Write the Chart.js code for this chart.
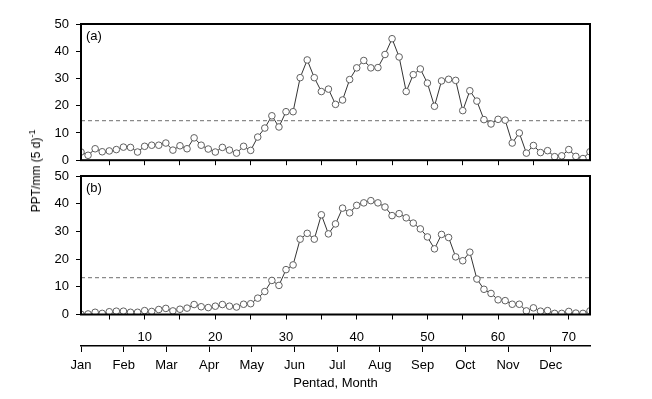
<!DOCTYPE html>
<html>
<head>
<meta charset="utf-8">
<script src="https://cdn.jsdelivr.net/npm/chart.js@4"></script>
<style>
  body { margin: 0; background: #fff; width: 652px; height: 399px; position: relative; overflow: hidden; }
  canvas { position: absolute; left: 0; }
  #chartA { top: 0; }
  #chartB { top: 160px; }
  #ylab {
    position: absolute; left: 35px; top: 171px;
    transform: translate(-50%, -50%) rotate(-90deg);
    font: 12px "Liberation Sans", Arial, sans-serif; color: #000; white-space: nowrap;
  }
  #ylab sup { font-size: 9px; }
</style>
</head>
<body>
<canvas id="chartA" width="652" height="175"></canvas>
<canvas id="chartB" width="652" height="239"></canvas>
<div id="ylab">PPT/mm (5 d)<sup>-1</sup></div>
<script>
// pentad index 1..73
const pentads = Array.from({ length: 73 }, (_, i) => i + 1);

// (a) upper panel
const pptA = [3.0, 1.8, 4.2, 3.1, 3.4, 3.9, 4.8, 4.7, 3.0, 5.1,
  5.5, 5.5, 6.3, 3.7, 5.3, 4.2, 8.2, 5.5, 4.1, 3.0,
  4.7, 3.7, 2.6, 5.1, 3.6, 8.5, 11.8, 16.3, 12.2, 17.8,
  17.8, 30.3, 36.8, 30.3, 25.2, 26.1, 20.5, 22.1, 29.6, 33.9,
  36.6, 33.9, 34.0, 38.8, 44.6, 37.9, 25.2, 31.4, 33.5, 28.3,
  19.8, 29.1, 29.7, 29.3, 18.2, 25.5, 21.7, 14.9, 13.3, 15.0,
  14.7, 6.3, 10.0, 2.6, 5.4, 2.8, 3.5, 1.3, 1.6, 3.9,
  1.4, 0.6, 3.1];
const thresholdA = 14.5;

// (b) lower panel
const pptB = [0.1, 0.2, 0.8, 0.4, 1.0, 1.2, 1.2, 0.8, 0.8, 1.4,
  1.1, 1.8, 2.2, 1.3, 1.9, 2.3, 3.6, 2.8, 2.5, 3.0,
  3.6, 3.0, 2.7, 3.7, 3.9, 5.9, 8.3, 12.3, 10.5, 16.2,
  17.9, 27.2, 29.3, 27.2, 36.0, 29.1, 32.7, 38.4, 36.7, 39.4,
  40.3, 41.1, 40.3, 38.8, 35.7, 36.4, 34.9, 33.0, 30.9, 28.0,
  23.7, 28.9, 27.8, 20.8, 19.4, 22.5, 12.8, 9.1, 7.6, 5.3,
  5.0, 3.7, 3.7, 1.3, 2.4, 1.2, 1.4, 0.4, 0.4, 1.1,
  0.5, 0.4, 1.3];
const thresholdB = 13.3;

// axis ticks
const pentadTicks = [5, 10, 15, 20, 25, 30, 35, 40, 45, 50, 55, 60, 65, 70];
const months = ['Jan', 'Feb', 'Mar', 'Apr', 'May', 'Jun', 'Jul', 'Aug', 'Sep', 'Oct', 'Nov', 'Dec'];
const monthSpan = 11.92;

const FONT = '"Liberation Sans", Arial, sans-serif';
Chart.defaults.font.family = FONT;
Chart.defaults.font.size = 13;
Chart.defaults.color = '#000';

const framePlugin = {
  id: 'frame',
  afterDraw(chart, args, opts) {
    const { ctx, chartArea: a } = chart;
    ctx.save();
    ctx.strokeStyle = '#000';
    ctx.lineWidth = 2;
    ctx.strokeRect(a.left, a.top, a.right - a.left, a.bottom - a.top);
    ctx.font = '13px ' + FONT;
    ctx.fillStyle = '#000';
    ctx.textBaseline = 'middle';
    ctx.fillText(opts.label, a.left + 5, a.top + 12);
    ctx.restore();
  }
};

function panel(id, label, values, threshold, lower) {
  const tickGrid = { drawOnChartArea: false, drawTicks: true, color: '#000', lineWidth: 1 };
  const scales = {
    x: {
      type: 'linear', min: 1, max: 73,
      afterBuildTicks: s => { s.ticks = pentadTicks.map(v => ({ value: v })); },
      afterFit: s => { s.height = lower ? 31.5 : 12.5; },
      grid: { ...tickGrid, tickLength: 5 },
      border: { display: false },
      ticks: {
        display: lower, padding: 10, maxRotation: 0, autoSkip: false,
        callback: v => (v % 10 === 0 ? v : '')
      }
    },
    y: {
      min: 0, max: 50,
      afterBuildTicks: s => { s.ticks = [0, 5, 10, 15, 20, 25, 30, 35, 40, 45, 50].map(v => ({ value: v })); },
      afterFit: s => { s.width = 81; },
      grid: { ...tickGrid, tickLength: 5 },
      border: { display: false },
      ticks: { padding: 7, callback: v => (v % 10 === 0 ? v : '') }
    }
  };
  if (lower) {
    scales.x2 = {
      type: 'linear', position: 'bottom', weight: 1, min: 0, max: monthSpan,
      afterBuildTicks: s => { s.ticks = months.map((m, i) => ({ value: i })); },
      afterFit: s => { s.height = 53; },
      grid: { ...tickGrid, tickLength: 6 },
      border: { display: true, color: '#000', width: 1.5 },
      ticks: { padding: 6, maxRotation: 0, autoSkip: false, callback: (v, i) => months[i] },
      title: { display: true, text: 'Pentad, Month', font: { size: 13 }, padding: { top: 0, bottom: 8 } }
    };
  }
  return new Chart(document.getElementById(id), {
    type: 'line',
    data: {
      datasets: [
        {
          data: pentads.map((p, i) => ({ x: p, y: values[i] })),
          borderColor: '#333', borderWidth: 1, tension: 0,
          pointRadius: 3.3, pointBorderWidth: 1,
          pointBorderColor: '#606060', pointBackgroundColor: '#fff',
          clip: 0, order: 1
        },
        {
          data: [{ x: 1, y: threshold }, { x: 73, y: threshold }],
          borderColor: '#8a8a8a', borderWidth: 1.2, borderDash: [4, 3],
          pointRadius: 0, clip: 0, order: 2
        }
      ]
    },
    options: {
      responsive: false,
      animation: false,
      layout: { padding: { top: lower ? 16 : 24, right: 62, left: 0, bottom: 0 } },
      plugins: { legend: { display: false }, tooltip: { enabled: false }, frame: { label } },
      scales
    },
    plugins: [framePlugin]
  });
}

panel('chartA', '(a)', pptA, thresholdA, false);
panel('chartB', '(b)', pptB, thresholdB, true);
</script>
</body>
</html>
